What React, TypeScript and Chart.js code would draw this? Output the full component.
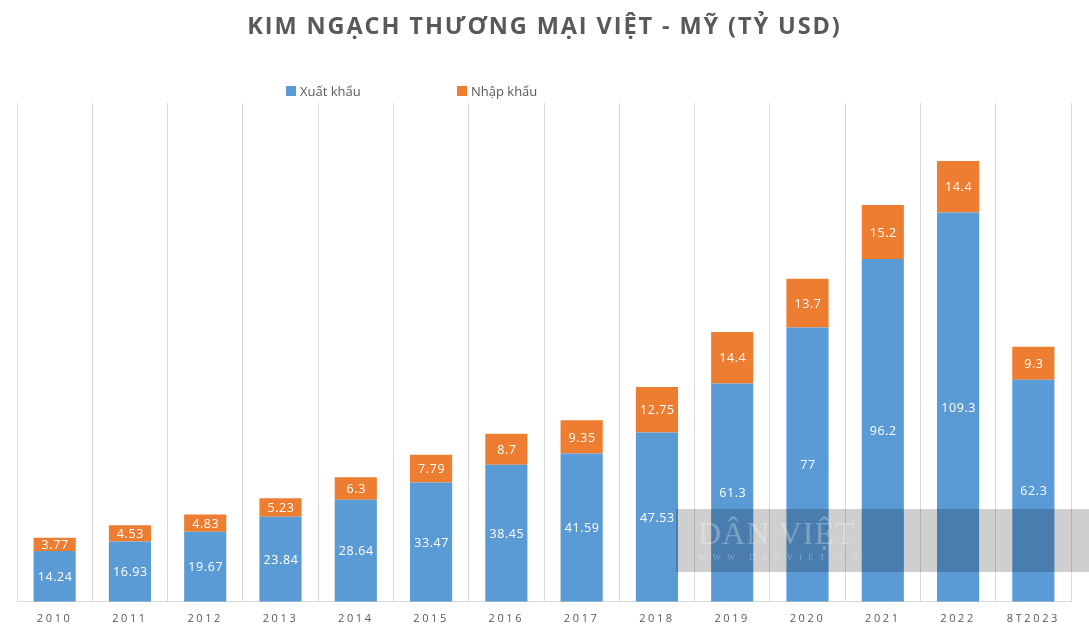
import React, { useEffect, useRef } from "react";
import { Chart, registerables } from "chart.js";

Chart.register(...registerables);

const categories = ["2010", "2011", "2012", "2013", "2014", "2015", "2016", "2017", "2018", "2019", "2020", "2021", "2022", "8T2023"];
const exportValues = [14.24, 16.93, 19.67, 23.84, 28.64, 33.47, 38.45, 41.59, 47.53, 61.3, 77, 96.2, 109.3, 62.3];
const importValues = [3.77, 4.53, 4.83, 5.23, 6.3, 7.79, 8.7, 9.35, 12.75, 14.4, 13.7, 15.2, 14.4, 9.3];
const seriesNames = ["Xuất khẩu", "Nhập khẩu"];
const titleText = "KIM NGẠCH THƯƠNG MẠI VIỆT - MỸ (TỶ USD)";

const BLUE = "#5B9BD5";
const ORANGE = "#ED7D31";
const GRAY = "#595959";
const FONT = "'Open Sans', 'DejaVu Sans', sans-serif";

const labelPlugin = {
  id: "segLabels",
  afterDatasetsDraw(chart: any) {
    const ctx = chart.ctx;
    ctx.save();
    ctx.fillStyle = "#ffffff";
    ctx.font = `12.5px ${FONT}`;
    ctx.textAlign = "center";
    ctx.textBaseline = "middle";
    (ctx as any).letterSpacing = "0.6px";
    chart.data.datasets.forEach((ds: any, di: number) => {
      const meta = chart.getDatasetMeta(di);
      meta.data.forEach((el: any, i: number) => {
        const v = ds.data[i];
        const cy = (el.y + el.base) / 2;
        ctx.fillText(String(v), el.x + 0.5, cy + 1);
      });
    });
    ctx.restore();
  },
};

const spacingPlugin = {
  id: "tickSpacing",
  beforeDraw(chart: any) {
    (chart.ctx as any).letterSpacing = "2.6px";
  },
  beforeDatasetsDraw(chart: any) {
    (chart.ctx as any).letterSpacing = "0px";
  },
};

export default function App() {
  const ref = useRef<HTMLCanvasElement | null>(null);

  useEffect(() => {
    document.body.style.margin = "0";
    if (!ref.current) return;
    const chart = new Chart(ref.current, {
      type: "bar",
      data: {
        labels: categories,
        datasets: [
          { label: seriesNames[0], data: exportValues, backgroundColor: BLUE, barPercentage: 0.56, categoryPercentage: 1 },
          { label: seriesNames[1], data: importValues, backgroundColor: ORANGE, barPercentage: 0.56, categoryPercentage: 1 },
        ],
      },
      options: {
        animation: false,
        responsive: true,
        maintainAspectRatio: false,
        layout: { padding: { left: 17, right: 18, top: 103, bottom: 2 } },
        plugins: {
          legend: { display: false },
          title: { display: false },
          tooltip: { enabled: false },
        },
        scales: {
          x: {
            stacked: true,
            offset: true,
            grid: { display: true, offset: true, color: "#d9d9d9", drawTicks: false, lineWidth: 1 },
            border: { display: true, color: "#d9d9d9" },
            ticks: { color: GRAY, font: { family: FONT, size: 11 }, padding: 10, maxRotation: 0, autoSkip: false },
          },
          y: {
            stacked: true,
            display: false,
            min: 0,
            max: 140,
          },
        },
      },
      plugins: [labelPlugin, spacingPlugin],
    });
    return () => chart.destroy();
  }, []);

  return (
    <div style={{ position: "relative", width: 1089, height: 637, background: "#fff", overflow: "hidden" }}>
      <canvas ref={ref} />
      <div
        style={{
          position: "absolute",
          top: 9,
          left: 0,
          width: 1089,
          textAlign: "center",
          fontFamily: FONT,
          fontWeight: 700,
          fontSize: 23.5,
          letterSpacing: "1.9px",
          color: GRAY,
          whiteSpace: "nowrap",
        }}
      >
        {titleText}
      </div>
      <div style={{ position: "absolute", top: 82, left: 286, display: "flex", alignItems: "center", fontFamily: FONT, fontSize: 13, color: GRAY }}>
        <span style={{ width: 10, height: 10, background: BLUE, display: "inline-block", marginRight: 4 }} />
        <span>{seriesNames[0]}</span>
      </div>
      <div style={{ position: "absolute", top: 82, left: 457, display: "flex", alignItems: "center", fontFamily: FONT, fontSize: 13, color: GRAY }}>
        <span style={{ width: 10, height: 10, background: ORANGE, display: "inline-block", marginRight: 4 }} />
        <span>{seriesNames[1]}</span>
      </div>
      <div
        style={{
          position: "absolute",
          left: 676,
          top: 509,
          width: 413,
          height: 63,
          background: "rgba(0,0,0,0.19)",
          pointerEvents: "none",
        }}
      >
        <div style={{ position: "absolute", left: 22, top: 6, fontFamily: "'Liberation Serif', serif", fontSize: 32, color: "rgba(255,255,255,0.28)", letterSpacing: "1px" }}>
          DÂN VIỆT
        </div>
        <div style={{ position: "absolute", left: 22, top: 43, fontFamily: "'Liberation Serif', serif", fontSize: 9, color: "rgba(255,255,255,0.28)", letterSpacing: "6px" }}>
          WWW.DANVIET.VN
        </div>
      </div>
    </div>
  );
}
